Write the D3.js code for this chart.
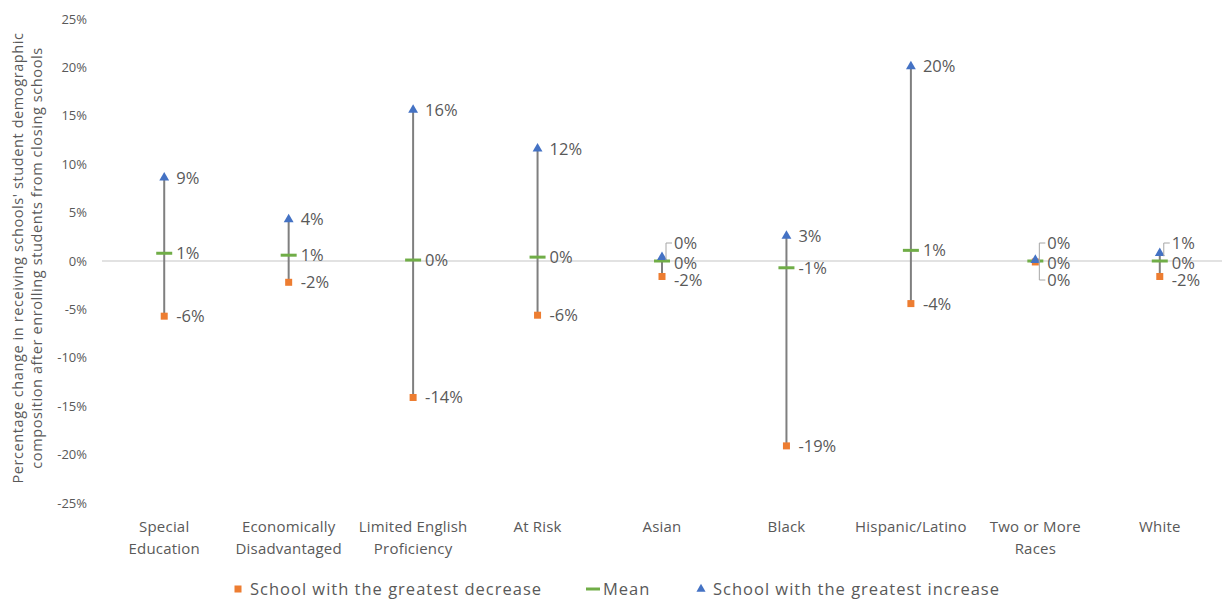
<!DOCTYPE html>
<html>
<head>
<meta charset="utf-8">
<script src="https://cdn.jsdelivr.net/npm/d3@7"></script>
<style>
  html, body { margin: 0; padding: 0; background: #fff; }
  svg { display: block; font-family: "Open Sans", Lato, sans-serif; }
</style>
</head>
<body>
<svg id="chart" width="1230" height="607"></svg>
<script>
// Demographic groups along the x axis, with their wrapped label lines
const categories = ["Special Education", "Economically Disadvantaged", "Limited English Proficiency",
  "At Risk", "Asian", "Black", "Hispanic/Latino", "Two or More Races", "White"];
const categoryLines = [["Special", "Education"], ["Economically", "Disadvantaged"], ["Limited English", "Proficiency"],
  ["At Risk"], ["Asian"], ["Black"], ["Hispanic/Latino"], ["Two or More", "Races"], ["White"]];

// Percentage change per group
const greatestDecrease = [-5.7, -2.2, -14.1, -5.6, -1.6, -19.1, -4.4, -0.1, -1.6];
const meanChange       = [0.8, 0.6, 0.1, 0.4, 0.0, -0.7, 1.1, 0.0, 0.0];
const greatestIncrease = [8.6, 4.3, 15.6, 11.6, 0.4, 2.6, 20.1, 0.1, 0.8];

const yTicks = [-25, -20, -15, -10, -5, 0, 5, 10, 15, 20, 25];
const legendItems = ["School with the greatest decrease", "Mean", "School with the greatest increase"];

const colors = { decrease: "#ed7d31", mean: "#70ad47", increase: "#4472c4", stem: "#7f7f7f", text: "#595959" };
const FONT = "'Open Sans', Lato, sans-serif";

const svg = d3.select("#chart");
const x = d3.scaleBand().domain(categories).range([102, 1222]);
const y = d3.scaleLinear().domain([-25, 25]).range([503, 19]);
const cx = c => x(c) + x.bandwidth() / 2;
const pct = v => d3.format(".0f")(v).replace("\u2212", "-").replace(/^-0$/, "0") + "%";

// Y axis labels (no line, no tick marks)
const yAxis = svg.append("g").attr("transform", "translate(89,0)")
  .call(d3.axisLeft(y).tickValues(yTicks).tickSize(0).tickPadding(2).tickFormat(d => d + "%"));
yAxis.select(".domain").remove();
yAxis.selectAll("text").attr("fill", colors.text).style("font-size", "13px").style("font-family", FONT);

// Zero baseline
svg.append("line").attr("x1", 102).attr("x2", 1222).attr("y1", y(0)).attr("y2", y(0))
  .attr("stroke", "#d9d9d9").attr("stroke-width", 1.3);

// Y axis title
const title = svg.append("text").attr("transform", "translate(0,258) rotate(-90)")
  .attr("text-anchor", "middle").attr("fill", colors.text)
  .style("font-size", "14.5px").style("letter-spacing", "0.6px");
title.append("tspan").attr("x", 0).attr("y", 23).text("Percentage change in receiving schools' student demographic");
title.append("tspan").attr("x", 0).attr("y", 42).text("composition after enrolling students from closing schools");

// Category labels
const xAxis = svg.append("g").attr("transform", "translate(0,513)")
  .call(d3.axisBottom(x).tickSize(0).tickFormat(() => ""));
xAxis.select(".domain").remove();
xAxis.selectAll(".tick text").each(function(d, i) {
  const t = d3.select(this).attr("fill", colors.text).style("font-size", "15px")
    .style("font-family", FONT).style("letter-spacing", "0.2px").attr("y", 0).attr("dy", 0);
  categoryLines[i].forEach((line, j) => {
    t.append("tspan").attr("x", 0).attr("y", 19 + j * 22).text(line);
  });
});

const rows = categories.map((c, i) => ({
  c, lo: greatestDecrease[i], mean: meanChange[i], hi: greatestIncrease[i]
}));

const plot = svg.append("g");

// High-low stems
plot.selectAll("line.stem").data(rows).join("line").attr("class", "stem")
  .attr("x1", d => cx(d.c)).attr("x2", d => cx(d.c))
  .attr("y1", d => y(d.hi)).attr("y2", d => y(d.lo))
  .attr("stroke", colors.stem).attr("stroke-width", 2);

// Mean dashes
plot.selectAll("line.mean").data(rows).join("line").attr("class", "mean")
  .attr("x1", d => cx(d.c) - 8).attr("x2", d => cx(d.c) + 8)
  .attr("y1", d => y(d.mean)).attr("y2", d => y(d.mean))
  .attr("stroke", colors.mean).attr("stroke-width", 3);

// Greatest decrease squares
plot.selectAll("rect.lo").data(rows).join("rect").attr("class", "lo")
  .attr("x", d => cx(d.c) - 3.5).attr("y", d => y(d.lo) - 3.5)
  .attr("width", 7).attr("height", 7).attr("fill", colors.decrease);

// Greatest increase triangles
const tri = d3.symbol().type(d3.symbolTriangle).size(42);
plot.selectAll("path.hi").data(rows).join("path").attr("class", "hi")
  .attr("transform", d => `translate(${cx(d.c)},${y(d.hi)})`)
  .attr("d", tri).attr("fill", colors.increase);

// Data labels, spread apart when the three values sit close together
const labelG = svg.append("g").attr("fill", colors.text).style("font-size", "16.5px");
rows.forEach(d => {
  const px = cx(d.c);
  const lx = px + 12;
  const ym = y(d.mean);
  const yHi = Math.min(y(d.hi), ym - 18);
  const yLo = Math.max(y(d.lo), ym + 19);
  const crowded = y(d.hi) - yHi > 4;
  const yMean = crowded ? ym + 2 : ym;
  const items = [
    { v: d.hi, ly: yHi, my: y(d.hi), dir: -1 },
    { v: d.mean, ly: yMean, my: ym, dir: 0 },
    { v: d.lo, ly: yLo, my: y(d.lo), dir: 1 }
  ];
  items.forEach(it => {
    labelG.append("text").attr("x", lx).attr("y", it.ly).attr("dy", "0.36em").text(pct(it.v));
    // leader from the label back to its marker when it was moved
    if (Math.abs(it.ly - it.my) > 6 && it.dir !== 0) {
      labelG.append("path")
        .attr("d", `M${lx - 2},${it.ly}H${px + 4}V${it.my - it.dir * 3}`)
        .attr("fill", "none").attr("stroke", "#a6a6a6").attr("stroke-width", 1);
    }
  });
});

// Legend
const legend = svg.append("g").attr("transform", "translate(0,589)")
  .style("font-size", "16.5px").style("letter-spacing", "1px");
const lg1 = legend.append("g").attr("transform", "translate(238,0)");
lg1.append("rect").attr("x", -3.5).attr("y", -3.5).attr("width", 7).attr("height", 7).attr("fill", colors.decrease);
lg1.append("text").attr("x", 12).attr("dy", "0.36em").attr("fill", colors.text).text(legendItems[0]);
const lg2 = legend.append("g").attr("transform", "translate(593,0)");
lg2.append("line").attr("x1", -7).attr("x2", 7).attr("stroke", colors.mean).attr("stroke-width", 3);
lg2.append("text").attr("x", 10).attr("dy", "0.36em").attr("fill", colors.text).text(legendItems[1]);
const lg3 = legend.append("g").attr("transform", "translate(701,0)");
lg3.append("path").attr("d", d3.symbol().type(d3.symbolTriangle).size(36)).attr("fill", colors.increase);
lg3.append("text").attr("x", 12).attr("dy", "0.36em").attr("fill", colors.text).text(legendItems[2]);
</script>
</body>
</html>
